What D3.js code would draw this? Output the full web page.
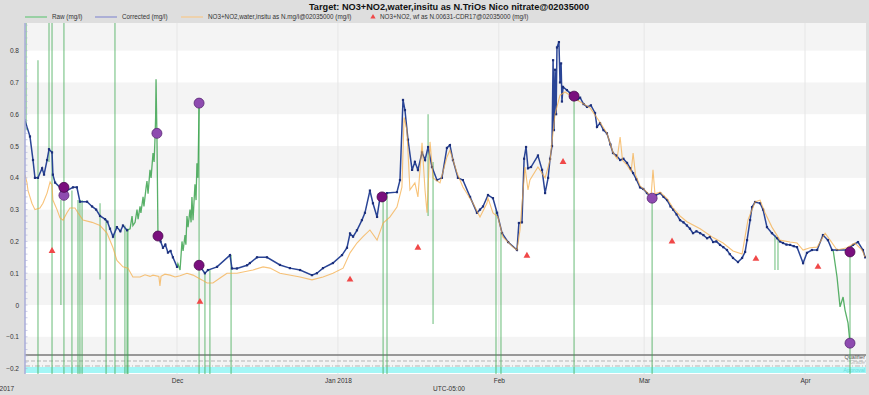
<!DOCTYPE html>
<html><head><meta charset="utf-8">
<script src="https://cdn.jsdelivr.net/npm/d3@7"></script>
<style>body{margin:0;background:#dedede}svg{display:block;font-family:"Liberation Sans",Arial,sans-serif}</style>
</head><body><svg id="c" width="869" height="395"></svg>
<script>
const titleText = "Target: NO3+NO2,water,insitu as N.TriOs Nico nitrate@02035000";
const legendNames = ["Raw (mg/l)", "Corrected (mg/l)", "NO3+NO2,water,insitu as N.mg/l@02035000 (mg/l)", "NO3+NO2, wf as N.00631-CDR17@02035000 (mg/l)"];
const yTickValues = [0.8, 0.7, 0.6, 0.5, 0.4, 0.3, 0.2, 0.1, 0, -0.1, -0.2];
const xTickDates = ["2017-12-01T00", "2018-01-01T00", "2018-02-01T00", "2018-03-01T00", "2018-04-01T00"];
const xTickLabels = ["Dec", "Jan 2018", "Feb", "Mar", "Apr"];
const trackLabels = ["Qualifier", "Grade", "Approval"];

const corrected = [
["2017-11-01T17",0.58],["2017-11-02T16",0.53],["2017-11-03T06",0.456],["2017-11-03T15",0.40],["2017-11-04T05",0.40],
["2017-11-05T00",0.43],["2017-11-05T09",0.41],["2017-11-05T23",0.456],["2017-11-06T08",0.49],["2017-11-06T22",0.48],
["2017-11-07T02",0.41],["2017-11-07T12",0.385],["2017-11-08T11",0.37],["2017-11-08T20",0.34],["2017-11-09T19",0.36],
["2017-11-10T23",0.37],["2017-11-11T17",0.37],["2017-11-12T07",0.325],["2017-11-13T16",0.325],["2017-11-14T15",0.31],
["2017-11-15T10",0.30],["2017-11-16T04",0.28],["2017-11-17T03",0.27],["2017-11-17T14",0.262],["2017-11-18T02",0.24],["2017-11-18T16",0.215],["2017-11-19T10",0.245],
["2017-11-20T02",0.232],["2017-11-20T14",0.25],["2017-11-21T09",0.235],["2017-11-21T13",null],
["2017-11-27T08",0.215],["2017-11-27T20",0.2],["2017-11-28T07",0.18],["2017-11-28T18",0.19],["2017-11-29T06",0.165],["2017-11-29T18",0.17],["2017-11-30T05",0.15],["2017-12-01T00",0.12],["2017-12-01T04",null],
["2017-12-05T06",0.125],["2017-12-06T09",0.10],["2017-12-06T23",0.11],["2017-12-08T17",0.12],["2017-12-11T05",0.157],
["2017-12-11T14",0.115],["2017-12-12T13",0.115],["2017-12-14T12",0.125],["2017-12-15T01",0.132],["2017-12-16T10",0.15],
["2017-12-18T08",0.15],["2017-12-20T20",0.126],["2017-12-22T18",0.116],["2017-12-24T17",0.11],["2017-12-27T00",0.094],
["2017-12-27T23",0.10],["2017-12-29T03",0.116],["2017-12-31T01",0.132],["2018-01-01T19",0.157],["2018-01-02T18",0.18],
["2018-01-03T08",0.225],["2018-01-03T22",0.215],["2018-01-04T16",0.235],["2018-01-05T15",0.267],["2018-01-06T05",0.29],
["2018-01-07T04",0.36],["2018-01-07T18",0.32],["2018-01-08T13",0.277],["2018-01-09T03",0.34],["2018-01-10T11",0.352],
["2018-01-12T09",0.355],["2018-01-12T23",0.393],["2018-01-13T13",0.645],["2018-01-13T22",0.613],["2018-01-14T12",0.52],
["2018-01-15T07",0.425],["2018-01-15T20",0.45],["2018-01-16T10",0.425],["2018-01-17T05",0.48],["2018-01-17T19",0.456],
["2018-01-18T09",0.497],["2018-01-19T03",0.434],["2018-01-20T02",0.393],["2018-01-21T01",0.40],["2018-01-22T00",0.494],
["2018-01-22T14",0.503],["2018-01-23T04",0.456],["2018-01-24T03",0.40],["2018-01-25T02",0.393],["2018-01-26T11",0.34],
["2018-01-27T19",0.29],["2018-01-28T09",0.30],["2018-01-28T23",0.31],["2018-01-29T22",0.346],["2018-01-30T21",0.336],
["2018-01-31T16",0.29],["2018-02-01T15",0.226],["2018-02-02T19",0.198],["2018-02-04T12",0.173],["2018-02-04T21",0.258],
["2018-02-05T11",0.26],["2018-02-05T21",0.46],["2018-02-06T06",0.497],["2018-02-06T15",0.43],["2018-02-07T05",0.434],
["2018-02-08T13",0.47],["2018-02-09T08",0.425],["2018-02-09T22",0.352],["2018-02-10T12",0.40],["2018-02-10T21",0.46],
["2018-02-11T06",0.50],["2018-02-11T11",0.77],["2018-02-11T15",0.55],["2018-02-11T20",0.74],["2018-02-12T01",0.60],
["2018-02-12T05",0.81],["2018-02-12T14",0.827],["2018-02-12T19",0.70],["2018-02-13T00",0.76],["2018-02-13T04",0.64],
["2018-02-13T09",0.686],["2018-02-14T03",0.676],["2018-02-14T17",0.667],["2018-02-15T12",0.657],["2018-02-16T04",0.645],
["2018-02-16T16",0.652],["2018-02-17T08",0.632],["2018-02-18T00",0.623],["2018-02-18T18",0.628],["2018-02-19T13",0.604],
["2018-02-19T22",0.56],["2018-02-20T12",0.572],["2018-02-21T04",0.55],["2018-02-21T20",0.54],["2018-02-22T12",0.505],
["2018-02-23T00",0.478],["2018-02-23T16",0.47],["2018-02-24T09",0.456],["2018-02-25T00",0.46],["2018-02-25T17",0.447],
["2018-02-26T08",0.43],["2018-02-26T21",0.415],["2018-02-27T12",0.395],["2018-02-28T05",0.37],["2018-02-28T20",0.365],
["2018-03-01T13",0.352],["2018-03-02T13",0.336],["2018-03-03T06",0.345],["2018-03-04T02",0.352],["2018-03-04T18",0.34],
["2018-03-05T10",0.33],["2018-03-06T02",0.31],["2018-03-06T14",0.30],["2018-03-07T06",0.285],["2018-03-07T22",0.267],
["2018-03-08T14",0.26],["2018-03-09T06",0.25],["2018-03-09T20",0.24],["2018-03-10T10",0.226],["2018-03-11T02",0.232],
["2018-03-11T19",0.226],["2018-03-12T10",0.22],["2018-03-13T03",0.21],["2018-03-13T16",0.214],["2018-03-14T07",0.198],
["2018-03-14T22",0.2],["2018-03-15T15",0.189],["2018-03-16T06",0.182],["2018-03-16T23",0.173],["2018-03-17T12",0.16],
["2018-03-18T03",0.148],["2018-03-19T02",0.135],
["2018-03-19T21",0.148],["2018-03-20T11",0.167],["2018-03-20T20",0.204],["2018-03-21T10",0.267],["2018-03-21T19",0.308],
["2018-03-22T09",0.324],["2018-03-23T08",0.32],["2018-03-23T22",0.30],["2018-03-24T16",0.245],["2018-03-25T15",0.226],
["2018-03-26T15",0.21],["2018-03-27T04",0.2],["2018-03-27T18",0.195],["2018-03-28T10",0.19],["2018-03-29T03",0.189],["2018-03-29T20",0.185],["2018-03-30T11",0.182],["2018-03-31T15",0.132],
["2018-04-01T09",0.164],["2018-04-02T08",0.173],["2018-04-03T08",0.173],["2018-04-04T11",0.22],["2018-04-05T10",0.204],
["2018-04-06T05",0.173],["2018-04-07T04",0.173],["2018-04-09T02",0.173],["2018-04-10T06",0.189],["2018-04-11T05",0.198],
["2018-04-12T04",0.173],["2018-04-12T14",0.15]
];

const insitu = [
["2017-11-01T17",0.41],["2017-11-02T02",0.385],["2017-11-02T07",0.36],["2017-11-03T01",0.32],["2017-11-03T15",0.30],
["2017-11-04T14",0.305],["2017-11-05T04",0.32],["2017-11-05T23",0.352],["2017-11-06T13",0.387],["2017-11-06T22",0.377],
["2017-11-07T02",0.33],["2017-11-07T21",0.30],["2017-11-08T11",0.274],["2017-11-09T01",0.267],["2017-11-09T19",0.29],
["2017-11-10T09",0.305],["2017-11-11T08",0.305],["2017-11-11T22",0.29],["2017-11-12T21",0.267],["2017-11-14T15",0.26],
["2017-11-16T04",0.25],["2017-11-17T12",0.226],["2017-11-18T16",0.18],["2017-11-19T10",0.14],["2017-11-20T14",0.12],
["2017-11-21T13",0.116],["2017-11-22T12",0.088],["2017-11-23T21",0.088],["2017-11-24T20",0.095],["2017-11-25T19",0.09],
["2017-11-26T09",0.094],["2017-11-27T12",0.09],["2017-11-27T17",0.06],["2017-11-27T22",0.09],["2017-11-28T16",0.097],
["2017-11-29T16",0.094],["2017-11-30T15",0.088],["2017-12-01T14",0.092],["2017-12-02T22",0.10],["2017-12-04T02",0.094],
["2017-12-05T19",0.079],["2017-12-06T19",0.069],["2017-12-07T22",0.069],["2017-12-09T07",0.085],["2017-12-10T15",0.10],
["2017-12-12T13",0.10],["2017-12-15T15",0.11],["2017-12-17T14",0.12],["2017-12-18T22",0.116],["2017-12-20T20",0.10],
["2017-12-24T17",0.088],["2017-12-27T00",0.079],["2017-12-29T03",0.088],["2017-12-31T01",0.10],["2018-01-02T00",0.116],
["2018-01-03T08",0.164],["2018-01-04T16",0.195],["2018-01-05T20",0.215],["2018-01-07T04",0.236],["2018-01-08T13",0.204],
["2018-01-09T17",0.258],["2018-01-11T01",0.277],["2018-01-12T09",0.308],["2018-01-13T08",0.371],["2018-01-13T18",0.59],
["2018-01-14T07",0.55],["2018-01-14T21",0.362],["2018-01-15T20",0.384],["2018-01-16T10",0.34],["2018-01-17T05",0.51],
["2018-01-17T19",0.36],["2018-01-18T04",0.29],["2018-01-18T18",0.513],["2018-01-19T08",0.40],["2018-01-20T16",0.384],
["2018-01-22T00",0.465],["2018-01-22T14",0.487],["2018-01-23T23",0.415],["2018-01-25T02",0.371],["2018-01-27T01",0.32],
["2018-01-28T09",0.277],["2018-01-29T17",0.32],["2018-01-29T22",0.336],["2018-01-30T21",0.29],["2018-01-31T20",0.277],
["2018-02-01T19",0.214],["2018-02-03T18",0.182],["2018-02-04T12",0.173],["2018-02-05T02",0.236],["2018-02-06T01",0.434],
["2018-02-06T15",0.362],["2018-02-07T00",0.393],["2018-02-08T13",0.434],["2018-02-09T22",0.40],["2018-02-10T21",0.456],
["2018-02-11T20",0.60],["2018-02-12T19",0.66],["2018-02-13T18",0.67],["2018-02-14T17",0.66],["2018-02-16T02",0.645],
["2018-02-18T14",0.62],["2018-02-20T12",0.575],["2018-02-21T20",0.54],["2018-02-23T00",0.48],["2018-02-23T19",0.46],
["2018-02-24T09",0.528],["2018-02-24T20",0.455],["2018-02-25T17",0.44],["2018-02-26T12",0.42],["2018-02-26T21",0.478],
["2018-02-27T08",0.41],["2018-02-28T05",0.375],["2018-03-01T13",0.355],["2018-03-02T08",0.34],["2018-03-02T17",0.425],
["2018-03-03T02",0.35],["2018-03-04T02",0.355],["2018-03-05T10",0.335],["2018-03-06T14",0.305],["2018-03-07T22",0.28],
["2018-03-09T06",0.262],["2018-03-11T19",0.24],["2018-03-14T07",0.212],["2018-03-16T05",0.195],["2018-03-18T03",0.17],
["2018-03-19T21",0.16],["2018-03-21T00",0.267],["2018-03-22T09",0.324],
["2018-03-23T08",0.33],["2018-03-24T07",0.29],["2018-03-25T15",0.245],["2018-03-27T04",0.204],["2018-03-29T03",0.198],
["2018-03-30T11",0.195],["2018-03-31T15",0.173],["2018-04-01T23",0.18],["2018-04-03T08",0.182],["2018-04-04T21",0.226],
["2018-04-05T20",0.204],["2018-04-07T04",0.173],["2018-04-09T02",0.18],["2018-04-10T15",0.195],["2018-04-12T00",0.173],
["2018-04-12T14",0.15]
];

const raw = [
["2017-11-21T09",0.235],["2017-11-21T23",0.24],["2017-11-22T08",0.28],["2017-11-22T12",0.25],["2017-11-22T22",0.26],
["2017-11-23T07",0.30],["2017-11-23T12",0.27],["2017-11-23T21",0.31],["2017-11-24T01",0.29],["2017-11-24T11",0.34],
["2017-11-24T15",0.31],["2017-11-25T01",0.37],["2017-11-25T05",0.39],["2017-11-25T10",0.35],["2017-11-25T19",0.425],
["2017-11-26T00",0.40],["2017-11-26T09",0.478],["2017-11-26T14",0.45],["2017-11-26T18",0.52],["2017-11-26T21",0.59],
["2017-11-26T23",0.71],["2017-11-27T01",0.62],["2017-11-27T03",0.54],["2017-11-27T08",0.215],["2017-11-27T09",null],
["2017-12-01T00",0.12],["2017-12-01T04",0.13],["2017-12-01T14",0.11],["2017-12-01T23",0.20],["2017-12-02T04",0.17],
["2017-12-02T13",0.22],["2017-12-02T17",0.19],["2017-12-02T22",0.28],["2017-12-03T03",0.245],["2017-12-03T12",0.30],
["2017-12-03T17",0.26],["2017-12-03T21",0.34],["2017-12-04T02",0.267],["2017-12-04T11",0.38],["2017-12-04T16",0.33],
["2017-12-04T20",0.446],["2017-12-05T01",0.40],["2017-12-05T06",0.635],["2017-12-05T07",null],
["2018-04-06T10",0.173],["2018-04-07T04",0.088],["2018-04-07T18",-0.006],["2018-04-08T08",0.025],["2018-04-08T17",-0.016],
["2018-04-09T07",-0.057],["2018-04-09T16",-0.12]
];

// raw excursions: [date, low, high]
const rawSpikes = [
["2017-11-01T22",0.55,0.95],["2017-11-04T05",-0.25,0.77],["2017-11-06T08",0.45,0.95],["2017-11-06T22",-0.25,0.95],
["2017-11-08T15",0.0,0.33],["2017-11-09T05",-0.25,0.95],["2017-11-10T18",-0.25,0.36],["2017-11-11T22",-0.25,0.33],
["2017-11-12T07",-0.25,0.33],["2017-11-12T17",-0.25,0.33],["2017-11-16T04",0.08,0.32],["2017-11-17T08",-0.25,0.27],
["2017-11-19T01",-0.25,0.95],["2017-11-20T23",-0.25,0.25],["2017-11-21T09",-0.25,0.24],["2017-11-21T13",-0.25,0.24],
["2017-12-05T06",-0.25,0.635],["2017-12-06T09",-0.25,0.10],["2017-12-07T08",-0.25,0.11],["2017-12-11T10",-0.25,0.157],
["2018-01-09T17",-0.25,0.34],["2018-01-10T11",-0.25,0.35],["2018-01-18T09",0.28,0.60],["2018-01-19T08",-0.06,0.45],
["2018-01-31T11",-0.25,0.30],["2018-02-01T10",-0.25,0.23],["2018-02-15T12",-0.25,0.657],["2018-03-02T13",-0.25,0.336],
["2018-03-26T05",0.11,0.22],["2018-03-26T19",0.11,0.21],["2018-04-09T16",-0.25,0.167]
];

const fieldVisits = [
["2017-11-06T22",0.17],["2017-12-05T10",0.01],["2018-01-03T08",0.08],["2018-01-16T10",0.18],["2018-02-06T10",0.155],
["2018-02-13T09",0.45],["2018-03-06T09",0.20],["2018-03-22T13",0.145],["2018-04-03T12",0.12]
];

const correctionPointsCorrected = [
["2017-11-09T05",0.37],["2017-11-27T08",0.217],["2017-12-05T06",0.125],["2018-01-09T12",0.34],["2018-02-15T12",0.657],["2018-04-09T16",0.167]
];
const correctionPointsRaw = [
["2017-11-09T05",0.345],["2017-11-27T03",0.54],["2017-12-05T06",0.635],["2018-03-02T13",0.336],["2018-04-09T16",-0.12]
];

const parse = d3.utcParse("%Y-%m-%dT%H");
const svg = d3.select("#c");
const W = 869, H = 395;
const L = 25, R = 866, T = 23, B = 374;
const x = d3.scaleUtc().domain([parse("2017-11-01T17"), parse("2018-04-12T18")]).range([L, R]);
const y = d3.scaleLinear().domain([-0.217, 0.887]).range([B, T]);

svg.append("rect").attr("width", W).attr("height", H).attr("fill", "#dedede");
svg.append("rect").attr("x", L).attr("y", T).attr("width", R - L).attr("height", B - T).attr("fill", "#ffffff");

// bands
const bandStarts = [0.8, 0.6, 0.4, 0.2, 0.0, -0.2];
svg.append("g").selectAll("rect").data(bandStarts).join("rect")
  .attr("x", L).attr("width", R - L)
  .attr("y", d => Math.max(T, y(d + 0.1)))
  .attr("height", d => Math.min(B, y(d)) - Math.max(T, y(d + 0.1)))
  .attr("fill", "#f4f4f4");

// vertical month gridlines
svg.append("g").selectAll("line").data(xTickDates).join("line")
  .attr("x1", d => x(parse(d))).attr("x2", d => x(parse(d)))
  .attr("y1", T).attr("y2", B).attr("stroke", "#e6e6e6").attr("stroke-width", 1);

// qualifier tracks
const tracks = svg.append("g");
tracks.append("rect").attr("x", L).attr("width", R - L).attr("y", 367).attr("height", 6).attr("fill", "#a4f6f6");
tracks.append("line").attr("x1", L).attr("x2", R).attr("y1", 355).attr("y2", 355).attr("stroke", "#7a7a7a").attr("stroke-width", 1.3);
tracks.append("line").attr("x1", L).attr("x2", R).attr("y1", 361).attr("y2", 361).attr("stroke", "#b5b5b5").attr("stroke-width", 1).attr("stroke-dasharray", "4,2");
tracks.append("line").attr("x1", L).attr("x2", R).attr("y1", 366).attr("y2", 366).attr("stroke", "#b5b5b5").attr("stroke-width", 1).attr("stroke-dasharray", "5,2,1,2");
const trackY = [359, 364, 372];
const trackCol = ["#555", "#bbb", "#66dede"];
tracks.selectAll("text").data(trackLabels).join("text")
  .attr("x", R - 1).attr("y", (d, i) => trackY[i]).attr("text-anchor", "end")
  .attr("font-size", 5.5).attr("fill", (d, i) => trackCol[i]).text(d => d);

// clip
svg.append("clipPath").attr("id", "clip").append("rect").attr("x", L).attr("y", T).attr("width", R - L).attr("height", B - T);
const plot = svg.append("g").attr("clip-path", "url(#clip)");

const line = d3.line().defined(d => d[1] !== null).x(d => x(parse(d[0]))).y(d => y(d[1]));

// raw
plot.append("g").selectAll("line").data(rawSpikes).join("line")
  .attr("x1", d => x(parse(d[0]))).attr("x2", d => x(parse(d[0])))
  .attr("y1", d => y(d[1])).attr("y2", d => y(d[2]))
  .attr("stroke", "#3aa84f").attr("stroke-opacity", 0.55).attr("stroke-width", 1.4);
plot.append("path").datum(raw).attr("d", line).attr("fill", "none")
  .attr("stroke", "#2f9e44").attr("stroke-opacity", 0.8).attr("stroke-width", 1.3);

// corrected
plot.append("path").datum(corrected).attr("d", line).attr("fill", "none")
  .attr("stroke", "#2a4596").attr("stroke-width", 1.5);
plot.append("g").selectAll("rect").data(corrected.filter(d => d[1] !== null)).join("rect")
  .attr("x", d => x(parse(d[0])) - 1.1).attr("y", d => y(d[1]) - 1.1)
  .attr("width", 2.2).attr("height", 2.2).attr("fill", "#1c2f7a");

// insitu
plot.append("path").datum(insitu).attr("d", line).attr("fill", "none")
  .attr("stroke", "#f5a940").attr("stroke-opacity", 0.7).attr("stroke-width", 1.1);

// field visits
const tri = d3.symbol().type(d3.symbolTriangle).size(20);
plot.append("g").selectAll("path").data(fieldVisits).join("path")
  .attr("d", tri).attr("transform", d => `translate(${x(parse(d[0]))},${y(d[1])})`)
  .attr("fill", "#f04848");

// correction points
plot.append("g").selectAll("circle").data(correctionPointsRaw).join("circle")
  .attr("cx", d => x(parse(d[0]))).attr("cy", d => y(d[1])).attr("r", 5)
  .attr("fill", "#8e4bb0").attr("stroke", "#5a2a75").attr("stroke-width", 0.8);
plot.append("g").selectAll("circle").data(correctionPointsCorrected).join("circle")
  .attr("cx", d => x(parse(d[0]))).attr("cy", d => y(d[1])).attr("r", 5)
  .attr("fill", "#7a0f7e").attr("stroke", "#4a0a4e").attr("stroke-width", 0.8);

// y axis
svg.append("line").attr("x1", L).attr("x2", L).attr("y1", T).attr("y2", B).attr("stroke", "#a9acd8").attr("stroke-width", 1.5);
const minor = d3.range(-20, 89, 2).map(v => v / 100);
svg.append("g").selectAll("line").data(minor).join("line")
  .attr("x1", L).attr("x2", L + 2.5).attr("y1", d => y(d)).attr("y2", d => y(d))
  .attr("stroke", "#a9acd8").attr("stroke-width", 0.6);
const yAxis = d3.axisLeft(y).tickValues(yTickValues).tickSize(0).tickPadding(5)
  .tickFormat(d => d === 0 ? "0" : d3.format(".1f")(d));
const ya = svg.append("g").attr("transform", `translate(${L - 1},0)`).call(yAxis);
ya.select(".domain").remove();
ya.selectAll("text").attr("font-size", 6.5).attr("fill", "#333").attr("font-family", "Liberation Sans, Arial, sans-serif");

// x axis
const xAxis = d3.axisBottom(x).tickValues(xTickDates.map(parse)).tickSize(0).tickPadding(4)
  .tickFormat((d, i) => xTickLabels[i]);
const xa = svg.append("g").attr("transform", `translate(0,${B})`).call(xAxis);
xa.select(".domain").remove();
xa.selectAll("text").attr("font-size", 6.5).attr("fill", "#333").attr("font-family", "Liberation Sans, Arial, sans-serif");
svg.append("text").attr("x", 449).attr("y", 391).attr("text-anchor", "middle").attr("font-size", 6.5).attr("fill", "#333").text("UTC-05:00");
svg.append("text").attr("x", 14).attr("y", 391).attr("text-anchor", "end").attr("font-size", 6.5).attr("fill", "#333").text("2017");

// title
svg.append("text").attr("x", 449).attr("y", 10).attr("text-anchor", "middle")
  .attr("font-size", 9.2).attr("font-weight", "bold").attr("fill", "#111").text(titleText);

// legend
const legendX = [25, 95, 181, 373];
const legendTextX = [52, 122, 208, 380];
const legendKinds = ["line", "line", "line", "tri"];
const legendColors = ["#6cc77e", "#8a8fd0", "#f7c98a", "#f04848"];
const lg = svg.append("g");
legendNames.forEach((name, i) => {
  if (legendKinds[i] === "line") {
    lg.append("line").attr("x1", legendX[i]).attr("x2", legendX[i] + 22).attr("y1", 17).attr("y2", 17)
      .attr("stroke", legendColors[i]).attr("stroke-width", 1.2);
  } else {
    lg.append("path").attr("d", d3.symbol().type(d3.symbolTriangle).size(12)).attr("transform", `translate(${legendX[i]},17)`).attr("fill", legendColors[i]);
  }
  lg.append("text").attr("x", legendTextX[i]).attr("y", 19).attr("font-size", 6.3).attr("fill", "#333").text(name);
});
</script></body></html>
